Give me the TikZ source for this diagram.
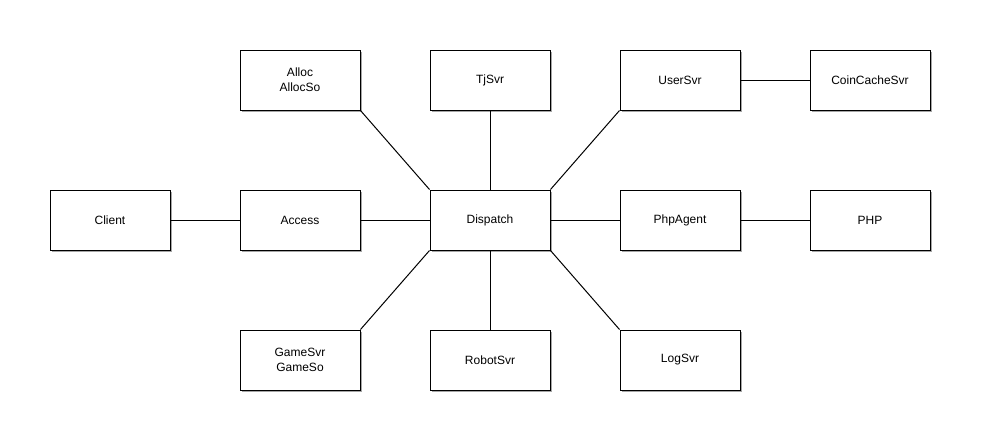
\documentclass[tikz,border=0pt]{standalone}
\usepackage{fontspec}
\setmainfont{Liberation Sans}
\usetikzlibrary{shadows}
\begin{document}
\begin{tikzpicture}[x=0.75pt,y=-0.75pt,
  box/.style={draw=black, line width=0.75pt, fill=white, minimum width=90pt, minimum height=45pt, inner sep=0pt, align=center, font=\fontsize{9pt}{11pt}\selectfont,
    drop shadow={shadow xshift=1.6pt, shadow yshift=-1.6pt, fill=black!35, opacity=1}},
  link/.style={draw=black, line width=0.75pt}]
\useasboundingbox (0,0) rectangle (983,444);
\node[box] (client) at (110,220) {Client};
\node[box] (access) at (300,220) {Access};
\node[box] (dispatch) at (490,220) {Dispatch};
\node[box] (phpagent) at (680,220) {PhpAgent};
\node[box] (php) at (870,220) {PHP};
\node[box] (alloc) at (300,80) {Alloc\\AllocSo};
\node[box] (tjsvr) at (490,80) {TjSvr};
\node[box] (usersvr) at (680,80) {UserSvr};
\node[box] (coin) at (870,80) {CoinCacheSvr};
\node[box] (game) at (300,360) {GameSvr\\GameSo};
\node[box] (robot) at (490,360) {RobotSvr};
\node[box] (log) at (680,360) {LogSvr};
\draw[link] (client.east) -- (access.west);
\draw[link] (access.east) -- (dispatch.west);
\draw[link] (dispatch.east) -- (phpagent.west);
\draw[link] (phpagent.east) -- (php.west);
\draw[link] (usersvr.east) -- (coin.west);
\draw[link] (alloc.south east) -- (dispatch.north west);
\draw[link] (tjsvr.south) -- (dispatch.north);
\draw[link] (usersvr.south west) -- (dispatch.north east);
\draw[link] (game.north east) -- (dispatch.south west);
\draw[link] (robot.north) -- (dispatch.south);
\draw[link] (log.north west) -- (dispatch.south east);
\end{tikzpicture}
\end{document}
